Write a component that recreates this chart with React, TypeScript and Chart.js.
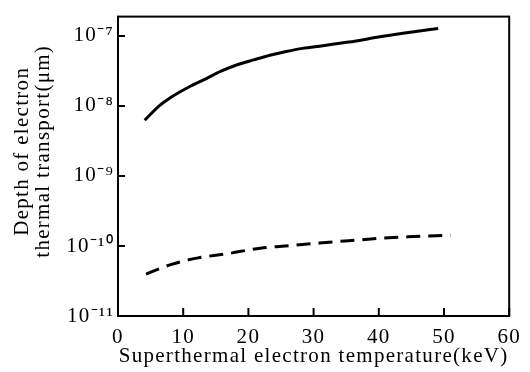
import React, { useEffect, useRef } from 'react';
import { Chart, registerables } from 'chart.js';

Chart.register(...registerables);

// ---- data ----
const solidX = [4.1, 6.2, 8.2, 10.8, 13.3, 15.8, 18.3, 20.8, 23.3, 25.8, 28.3, 31.4, 35.4, 40.4, 45.4, 49.1];
const solidY = [6.25e-9, 9.8e-9, 1.34e-8, 1.85e-8, 2.4e-8, 3.15e-8, 3.88e-8, 4.55e-8, 5.3e-8, 6.0e-8, 6.65e-8, 7.25e-8, 8.17e-8, 9.8e-8, 1.15e-7, 1.28e-7];
const dashedX = [4.3, 8.2, 12.3, 16.8, 21.8, 26.3, 30.9, 35.4, 39.9, 44.4, 51.0];
const dashedY = [3.97e-11, 5.47e-11, 6.76e-11, 7.76e-11, 9.31e-11, 1.01e-10, 1.1e-10, 1.19e-10, 1.28e-10, 1.35e-10, 1.42e-10];
const xTicks = [0, 10, 20, 30, 40, 50, 60];
const yExponents = [-11, -10, -9, -8, -7];
const xMin = 0;
const xMax = 60;
const yMin = 1e-11;
const yMax = 1.89e-7;
const xTitle = 'Superthermal electron temperature(keV)';
const yTitle = ['Depth of electron', 'thermal transport(μm)'];

const FONT = "'Liberation Serif', 'Times New Roman', serif";
const SUP: Record<string, string> = {
  '-': '⁻', '0': '⁰', '1': '¹', '2': '²', '3': '³', '4': '⁴', '5': '⁵', '6': '⁶', '7': '⁷', '8': '⁸', '9': '⁹',
};
const sup = (s: string) => s.split('').map((c) => SUP[c] ?? c).join('');

const spacingPlugin = {
  id: 'letterSpacing',
  beforeUpdate(chart: any) {
    chart.ctx.letterSpacing = '1.3px';
  },
  beforeDraw(chart: any) {
    chart.ctx.letterSpacing = '1.3px';
  },
};

const framePlugin = {
  id: 'frame',
  afterDraw(chart: any) {
    const { ctx, chartArea, scales } = chart;
    const { left, right, top, bottom } = chartArea;
    ctx.save();
    ctx.strokeStyle = '#000';
    ctx.lineWidth = 2;
    ctx.strokeRect(left, top, right - left, bottom - top);
    ctx.beginPath();
    for (const t of xTicks) {
      const x = scales.x.getPixelForValue(t);
      ctx.moveTo(x, bottom);
      ctx.lineTo(x, bottom - 8);
    }
    for (const e of yExponents) {
      const y = scales.y.getPixelForValue(Math.pow(10, e));
      ctx.moveTo(left, y);
      ctx.lineTo(left + 7, y);
    }
    ctx.stroke();
    ctx.restore();
  },
};

export default function App() {
  const ref = useRef<HTMLCanvasElement | null>(null);

  useEffect(() => {
    if (!ref.current) return;
    const chart = new Chart(ref.current, {
      type: 'line',
      data: {
        datasets: [
          {
            data: solidX.map((x, i) => ({ x, y: solidY[i] })),
            borderColor: '#000',
            borderWidth: 3,
            pointRadius: 0,
            fill: false,
            cubicInterpolationMode: 'monotone',
          },
          {
            data: dashedX.map((x, i) => ({ x, y: dashedY[i] })),
            borderColor: '#000',
            borderWidth: 3,
            borderDash: [14, 8],
            pointRadius: 0,
            fill: false,
            cubicInterpolationMode: 'monotone',
          },
        ],
      },
      options: {
        responsive: false,
        animation: false,
        devicePixelRatio: 1,
        layout: { padding: { top: 7, right: 13, left: 0, bottom: 0 } },
        plugins: { legend: { display: false }, tooltip: { enabled: false } },
        scales: {
          x: {
            type: 'linear',
            min: xMin,
            max: xMax,
            afterBuildTicks: (scale: any) => {
              scale.ticks = xTicks.map((v) => ({ value: v }));
            },
            afterFit: (scale: any) => {
              scale.height = 56;
            },
            grid: { display: false, drawTicks: false },
            border: { display: false },
            ticks: {
              color: '#000',
              padding: 9,
              maxRotation: 0,
              autoSkip: false,
              font: { family: FONT, size: 21 },
            },
            title: {
              display: true,
              text: xTitle,
              color: '#000',
              font: { family: FONT, size: 21, lineHeight: 1 },
              padding: { top: 0, bottom: 5 },
            },
          },
          y: {
            type: 'logarithmic',
            min: yMin,
            max: yMax,
            afterBuildTicks: (scale: any) => {
              scale.ticks = yExponents.map((e) => ({ value: Math.pow(10, e) }));
            },
            afterFit: (scale: any) => {
              scale.width = 118;
              if (!scale.__titleShifted) {
                scale.__titleShifted = true;
                const orig = scale.drawTitle;
                scale.drawTitle = function (...args: any[]) {
                  this.ctx.save();
                  this.ctx.translate(0, -15);
                  orig.apply(this, args);
                  this.ctx.restore();
                };
              }
            },
            grid: { display: false, drawTicks: false },
            border: { display: false },
            ticks: {
              color: '#000',
              padding: 4,
              autoSkip: false,
              font: { family: FONT, size: 21 },
              callback: (v: any) => '10' + sup(String(Math.round(Math.log10(Number(v))))),
            },
            title: {
              display: true,
              text: yTitle,
              color: '#000',
              font: { family: FONT, size: 21, lineHeight: 1 },
              padding: { top: 12, bottom: 0 },
            },
          },
        },
      } as any,
      plugins: [spacingPlugin, framePlugin],
    });
    return () => chart.destroy();
  }, []);

  return (
    <div style={{ position: 'absolute', left: 0, top: 0, width: 530, height: 372, background: '#fff' }}>
      <canvas ref={ref} width={530} height={372} style={{ width: 530, height: 372, display: 'block' }} />
    </div>
  );
}
